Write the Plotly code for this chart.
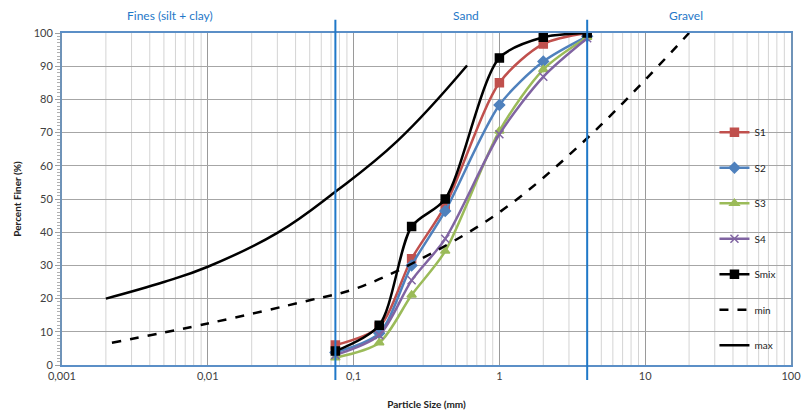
import numpy as np
import plotly.graph_objects as go

# ---- data ----
sieve = [0.075, 0.15, 0.25, 0.425, 1, 2, 4]
S1 = [6, 11.5, 32, 48, 85, 96.7, 100]
S2 = [3.8, 9.6, 30, 46.4, 78.3, 91.4, 99]
S3 = [2.2, 6.7, 21.1, 34.3, 70.5, 89, 98.7]
S4 = [3, 9, 25.5, 38, 69.5, 86.8, 98.4]
Smix = [4.2, 12, 41.7, 50, 92.5, 98.7, 100]

min_x = [0.0022, 0.01, 0.05, 0.1, 0.25, 1, 4, 20]
min_y = [6.7, 12.5, 19.5, 22.8, 30.5, 46, 68.3, 100]
max_x = [0.002, 0.005, 0.01, 0.03, 0.075, 0.2, 0.6]
max_y = [20, 25, 29.6, 39.8, 52.2, 67.5, 90.2]

x_tickvals = [0.001, 0.01, 0.1, 1, 10, 100]
x_ticktext = ["0,001", "0,01", "0,1", "1", "10", "100"]
zone_bounds = [0.075, 4]
zone_labels = ["Fines (silt + clay)", "Sand", "Gravel"]

FONT = "Lato"
BLUE = "#1F78C8"

fig = go.Figure()

series = [
    ("S1", S1, "#C0504D", "square", 8),
    ("S2", S2, "#4F81BD", "diamond", 8),
    ("S3", S3, "#9BBB59", "triangle-up", 8),
    ("S4", S4, "#8064A2", "x-thin", 8),
    ("Smix", Smix, "#000000", "square", 8),
]
for name, ys, col, sym, sz in series:
    fig.add_trace(go.Scatter(
        x=sieve, y=ys, name=name, mode="lines+markers",
        line=dict(color=col, width=2.5, shape="spline", smoothing=0.8),
        marker=dict(symbol=sym, size=sz, color=col, line=dict(color=col, width=1.5)),
        legendgroup=name,
    ))

fig.add_trace(go.Scatter(
    x=min_x, y=min_y, name="min", mode="lines",
    line=dict(color="black", width=2.5, dash="dash", shape="spline", smoothing=1),
    legendgroup="min",
))
fig.add_trace(go.Scatter(
    x=max_x, y=max_y, name="max", mode="lines",
    line=dict(color="black", width=2.5, shape="spline", smoothing=1.2),
    legendgroup="max",
))

# minor vertical gridlines
shapes = []
for d in range(-3, 2):
    for k in range(2, 10):
        xv = k * 10.0 ** d
        shapes.append(dict(type="line", xref="x", yref="paper", x0=xv, x1=xv, y0=0, y1=1,
                           line=dict(color="#D4D4D4", width=1), layer="below"))
# zone boundaries
for b in zone_bounds:
    shapes.append(dict(type="line", xref="x", yref="paper", x0=b, x1=b, y0=-0.045, y1=1.04,
                       line=dict(color=BLUE, width=2), layer="above"))

annotations = []
for lbl, px in zip(zone_labels, [0.148, 0.554, 0.856]):
    annotations.append(dict(text=lbl, xref="paper", yref="paper", x=px, y=1.054,
                            showarrow=False, xanchor="center", yanchor="middle",
                            font=dict(family=FONT, size=12, color=BLUE)))

fig.update_layout(
    width=802, height=415,
    margin=dict(l=62, r=11, t=33, b=50, autoexpand=False),
    paper_bgcolor="white", plot_bgcolor="white",
    font=dict(family=FONT, size=11, color="#404040"),
    shapes=shapes, annotations=annotations,
    showlegend=True,
    legend=dict(x=0.895, y=0.745, xanchor="left", yanchor="top",
                bgcolor="rgba(0,0,0,0)", font=dict(family=FONT, size=10, color="#222"),
                traceorder="grouped", tracegroupgap=16.5, itemwidth=30),
)

fig.update_xaxes(
    type="log", range=[-3, 2], automargin=False,
    tickvals=x_tickvals, ticktext=x_ticktext, ticklabeloverflow="allow",
    showgrid=True, gridcolor="#9A9A9A", gridwidth=1,
    showline=True, linecolor="#5B8FC7", linewidth=2, mirror=True,
    ticks="", tickfont=dict(family=FONT, size=11, color="#404040"),
    title=dict(text="<b>Particle Size (mm)</b>", font=dict(family=FONT, size=10, color="#222"), standoff=20),
    zeroline=False,
)
fig.update_yaxes(
    range=[0, 100], dtick=10, automargin=False,
    showgrid=True, gridcolor="#A6A6A6", gridwidth=1,
    showline=True, linecolor="#6F93B8", linewidth=2, mirror=True,
    ticks="outside", ticklen=5, tickcolor="#A0A0A0",
    minor=dict(dtick=1, ticks="outside", ticklen=3, tickcolor="#B0B0B0", showgrid=False),
    tickfont=dict(family=FONT, size=11, color="#404040"),
    title=dict(text="<b>Percent Finer (%)</b>", font=dict(family=FONT, size=10, color="#222"), standoff=10),
    zeroline=False,
)

# remove the default 8px page margin so the figure fills the window exactly
fig.write_html("out.html", config={"displayModeBar": False},
               post_script="document.body.style.margin='0px';")
